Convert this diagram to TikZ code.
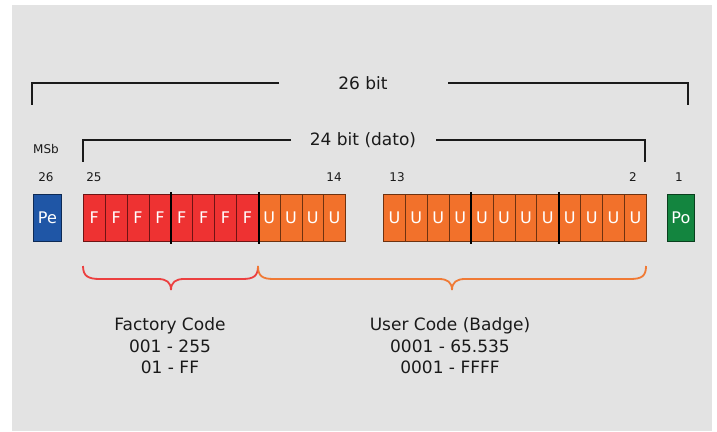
\documentclass[tikz,border=0pt]{standalone}
\usepackage{fontspec}
\setmainfont{DejaVu Sans}
\definecolor{bg}{HTML}{E3E3E3}
\definecolor{pblue}{HTML}{1F56A6}
\definecolor{pred}{HTML}{EE3232}
\definecolor{porange}{HTML}{F2712B}
\definecolor{pgreen}{HTML}{13853F}
\definecolor{dred}{HTML}{6E1414}
\definecolor{dorange}{HTML}{6E3210}
\definecolor{dblue}{HTML}{0E2A55}
\definecolor{dgreen}{HTML}{0A3F1E}
\definecolor{txt}{HTML}{1A1A1A}
\definecolor{bred}{HTML}{EC4040}
\definecolor{borange}{HTML}{F07A35}
\begin{document}
\begin{tikzpicture}[x=1pt,y=-1pt,
  bit/.style={line width=0.8pt,minimum width=21.9pt,minimum height=47pt,anchor=north west,inner sep=0pt,text=white,font=\fontsize{16}{16}\selectfont},
  fbit/.style={bit,fill=pred,draw=dred},
  ubit/.style={bit,fill=porange,draw=dorange},
  small/.style={text=txt,font=\fontsize{12}{12}\selectfont,inner sep=0pt},
  big/.style={text=txt,font=\fontsize{17}{17}\selectfont,inner sep=0pt},
  brk/.style={line width=1.6pt,txt},
  sepline/.style={line width=2pt,black},
  bracestyle/.style={line width=1.8pt,#1}]
\useasboundingbox (0,0) rectangle (717,431);
\fill[bg] (12,5) rectangle (712,431);

% brackets
\node[big] (t26) at (363,83) {26 bit};
\coordinate (l26) at (279,83);
\coordinate (r26) at (448,83);
\coordinate (a26) at (32,105);
\coordinate (b26) at (688,105);
\draw[brk] (l26) -| (a26);
\draw[brk] (r26) -| (b26);

\node[big] (t24) at (363,140) {24 bit (dato)};
\coordinate (l24) at (291,140);
\coordinate (r24) at (436,140);
\coordinate (a24) at (83,162);
\coordinate (b24) at (645,162);
\draw[brk] (l24) -| (a24);
\draw[brk] (r24) -| (b24);

% labels
\node[small] (msb) at (46,149) {MSb};
\node[small] (n26) at (46,177) {26};
\node[small] (n25) at (94,177) {25};
\node[small] (n14) at (334,177) {14};
\node[small] (n13) at (397,177) {13};
\node[small] (n2) at (633,177) {2};
\node[small] (n1) at (679,177) {1};

% boxes
\node[bit,fill=pblue,draw=dblue,minimum width=28pt] (pe) at (33,194) {Pe};
\foreach \i in {0,...,7}
  \node[fbit,minimum width=21.875pt] (f\i) at ({83+21.875*\i},194) {F};
\foreach \i in {0,...,3}
  \node[ubit,minimum width=21.75pt] (ua\i) at ({258+21.75*\i},194) {U};
\foreach \i in {0,...,11}
  \node[ubit,minimum width=21.92pt] (ub\i) at ({383+21.92*\i},194) {U};
\node[bit,fill=pgreen,draw=dgreen,minimum width=27pt] (po) at (667,194) {Po};

% nibble separators
\draw[sepline] ([yshift=2pt]f3.north east) -- ([yshift=-2pt]f3.south east);
\draw[sepline] ([yshift=2pt]f7.north east) -- ([yshift=-2pt]f7.south east);
\draw[sepline] ([yshift=2pt]ub3.north east) -- ([yshift=-2pt]ub3.south east);
\draw[sepline] ([yshift=2pt]ub7.north east) -- ([yshift=-2pt]ub7.south east);

% braces
\draw[bracestyle=bred] (83,266) .. controls (83,276) and (88,279) .. (100,279) -- (158,279)
  .. controls (166,279) and (171,282) .. (171,290)
  .. controls (171,282) and (176,279) .. (184,279) -- (242,279)
  .. controls (254,279) and (258,276) .. (258,266);
\draw[bracestyle=borange] (258,266) .. controls (258,276) and (262,279) .. (274,279) -- (439,279)
  .. controls (447,279) and (452,282) .. (452,290)
  .. controls (452,282) and (457,279) .. (465,279) -- (630,279)
  .. controls (642,279) and (646,276) .. (646,266);

% codes
\node[big,align=center,font=\fontsize{17}{21.5}\selectfont] (fc) at (170,346) {Factory Code\\001 - 255\\01 - FF};
\node[big,align=center,font=\fontsize{17}{21.5}\selectfont] (uc) at (450,346) {User Code (Badge)\\0001 - 65.535\\0001 - FFFF};
\end{tikzpicture}
\end{document}
